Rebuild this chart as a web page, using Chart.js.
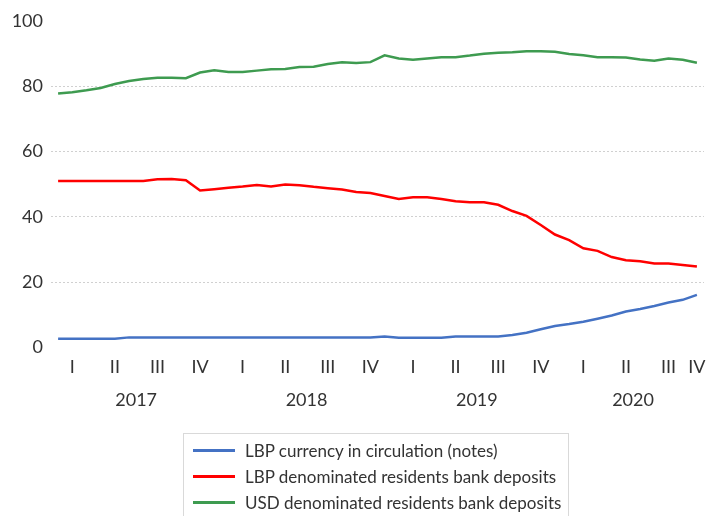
<!DOCTYPE html>
<html>
<head>
<meta charset="utf-8">
<title>LBP and USD money components</title>
<script src="https://cdn.jsdelivr.net/npm/chart.js@4.4.1/dist/chart.umd.min.js"></script>
<style>
  html, body { margin: 0; padding: 0; background: #fff; }
  #wrap { position: relative; width: 712px; height: 516px; overflow: hidden; }
  #chart { display: block; }
  #legend {
    position: absolute; left: 183px; top: 433px; width: 386px; height: 110px;
    border: 1px solid #d9d9d9; box-sizing: border-box;
    font-family: Lato, "Open Sans", sans-serif; font-size: 17px; color: #333;
  }
  #legend .row { position: absolute; left: 0; height: 26px; display: flex; align-items: center; white-space: nowrap; }
  #legend .sw { width: 42px; height: 3px; margin-left: 9px; margin-right: 10px; }
</style>
</head>
<body>
<div id="wrap">
  <canvas id="chart" width="712" height="516"></canvas>
  <div id="legend"></div>
</div>
<script>
// Monthly observations, January 2017 to October 2020 (share of total, %)
const months = [
  '2017-01','2017-02','2017-03','2017-04','2017-05','2017-06','2017-07','2017-08','2017-09','2017-10','2017-11','2017-12',
  '2018-01','2018-02','2018-03','2018-04','2018-05','2018-06','2018-07','2018-08','2018-09','2018-10','2018-11','2018-12',
  '2019-01','2019-02','2019-03','2019-04','2019-05','2019-06','2019-07','2019-08','2019-09','2019-10','2019-11','2019-12',
  '2020-01','2020-02','2020-03','2020-04','2020-05','2020-06','2020-07','2020-08','2020-09','2020-10'
];
const quarterNames = ['I', 'II', 'III', 'IV'];
const yTicks = [0, 20, 40, 60, 80, 100];

const seriesNames = [
  'LBP currency in circulation (notes)',
  'LBP denominated residents bank deposits',
  'USD denominated residents bank deposits'
];
const seriesColors = ['#4472c4', '#ff0000', '#3e9b50'];

const lbpNotes = [
  2.7, 2.7, 2.7, 2.7, 2.7, 3.1, 3.1, 3.1, 3.1, 3.1, 3.1, 3.1,
  3.1, 3.1, 3.1, 3.1, 3.1, 3.1, 3.1, 3.1, 3.1, 3.1, 3.1, 3.4,
  3.0, 3.0, 3.0, 3.0, 3.4, 3.4, 3.4, 3.4, 3.8, 4.5, 5.6, 6.6,
  7.2, 7.9, 8.8, 9.8, 11.0, 11.8, 12.7, 13.8, 14.6, 16.1
];
const lbpDeposits = [
  51.0, 51.0, 51.0, 51.0, 51.0, 51.0, 51.0, 51.5, 51.6, 51.2, 48.1, 48.5,
  48.9, 49.3, 49.8, 49.3, 49.9, 49.7, 49.2, 48.8, 48.4, 47.6, 47.3, 46.4,
  45.5, 46.0, 46.0, 45.5, 44.8, 44.5, 44.5, 43.7, 41.8, 40.3, 37.5, 34.6,
  32.9, 30.4, 29.6, 27.7, 26.7, 26.4, 25.7, 25.7, 25.3, 24.8
];
const usdDeposits = [
  77.8, 78.2, 78.8, 79.5, 80.7, 81.6, 82.2, 82.6, 82.6, 82.5, 84.2, 84.9,
  84.4, 84.4, 84.8, 85.2, 85.3, 85.9, 86.0, 86.8, 87.4, 87.1, 87.4, 89.5,
  88.5, 88.1, 88.5, 88.9, 88.9, 89.4, 90.0, 90.3, 90.4, 90.7, 90.7, 90.6,
  89.9, 89.5, 88.9, 88.9, 88.8, 88.2, 87.8, 88.5, 88.1, 87.2
];

const FONT = 'Lato, "Open Sans", sans-serif';
const TEXT = '#333333';

// Quarter labels sit at the centre of each quarter's months; years at the centre of each year.
function groupCentres(keyOf, labelOf) {
  const groups = [];
  months.forEach((m, i) => {
    const key = keyOf(m);
    let g = groups.find(x => x.key === key);
    if (!g) { g = { key, label: labelOf(m), first: i, last: i }; groups.push(g); }
    g.last = i;
  });
  return groups.map(g => ({ label: g.label, centre: (g.first + g.last) / 2 }));
}
const quarterOf = m => Math.floor((parseInt(m.slice(5), 10) - 1) / 3);
const quarterGroups = groupCentres(m => m.slice(0, 4) + 'Q' + quarterOf(m), m => quarterNames[quarterOf(m)]);
const yearGroups = groupCentres(m => m.slice(0, 4), m => m.slice(0, 4));
const quarterAt = {};
quarterGroups.forEach(q => { quarterAt[Math.round(q.centre)] = q.label; });

const seriesData = [lbpNotes, lbpDeposits, usdDeposits];

// HTML legend built from the chart's datasets
const htmlLegend = {
  id: 'htmlLegend',
  afterUpdate(chart) {
    const box = document.getElementById('legend');
    box.innerHTML = '';
    chart.data.datasets.forEach((ds, i) => {
      const row = document.createElement('div');
      row.className = 'row';
      row.style.top = (3 + i * 26) + 'px';
      const sw = document.createElement('span');
      sw.className = 'sw';
      sw.style.background = ds.borderColor;
      const tx = document.createElement('span');
      tx.textContent = ds.label;
      row.appendChild(sw);
      row.appendChild(tx);
      box.appendChild(row);
    });
  }
};

new Chart(document.getElementById('chart'), {
  type: 'line',
  data: {
    labels: months,
    datasets: seriesNames.map((name, i) => ({
      label: name,
      data: seriesData[i],
      borderColor: seriesColors[i],
      backgroundColor: seriesColors[i],
      borderWidth: 2.5,
      pointRadius: 0,
      pointHoverRadius: 0,
      tension: 0,
      fill: false
    }))
  },
  options: {
    responsive: false,
    animation: false,
    events: [],
    layout: { padding: { left: 0, right: 8, top: 21, bottom: 102.5 } },
    plugins: { legend: { display: false }, tooltip: { enabled: false } },
    scales: {
      x: {
        type: 'category',
        offset: true,
        weight: 0,
        grid: { display: false },
        border: { display: false },
        ticks: {
          autoSkip: false, maxRotation: 0, minRotation: 0, padding: 1,
          color: TEXT, font: { family: FONT, size: 18 },
          callback: (v, i) => quarterAt[i] || ''
        },
        afterFit: s => { s.height = 34; }
      },
      year: {
        type: 'linear',
        position: 'bottom',
        weight: 1,
        min: -0.5,
        max: months.length - 0.5,
        grid: { display: false },
        border: { display: false },
        afterBuildTicks: s => { s.ticks = yearGroups.map(g => ({ value: g.centre })); },
        ticks: {
          autoSkip: false, maxRotation: 0, minRotation: 0, padding: 0,
          color: TEXT, font: { family: FONT, size: 18 },
          callback: (v, i) => yearGroups[i] ? yearGroups[i].label : ''
        },
        afterFit: s => { s.height = 32; }
      },
      y: {
        min: 0,
        max: 100,
        afterBuildTicks: s => { s.ticks = yTicks.map(v => ({ value: v })); },
        ticks: { padding: 8, color: TEXT, font: { family: FONT, size: 18 } },
        grid: {
          drawTicks: false,
          lineWidth: 1,
          color: c => (c.tick && (c.tick.value === 0 || c.tick.value === 100)) ? 'rgba(0,0,0,0)' : '#d0d0d0'
        },
        border: { display: false, dash: [2, 2] },
        afterFit: s => { s.width = 51; }
      }
    }
  },
  plugins: [htmlLegend]
});
</script>
</body>
</html>
